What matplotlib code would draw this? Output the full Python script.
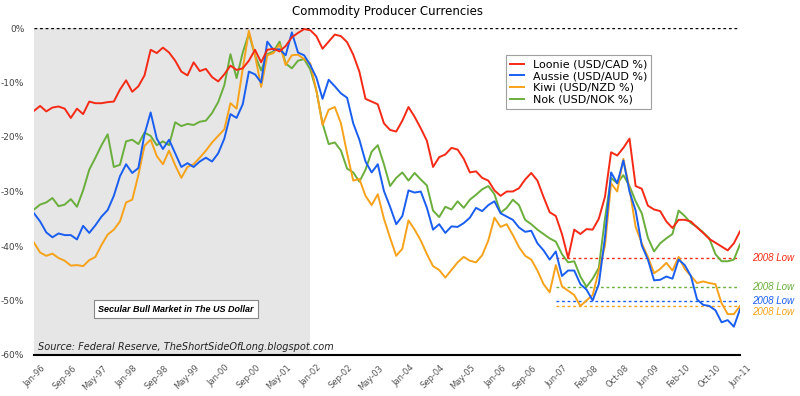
import numpy as np
import matplotlib
matplotlib.use("Agg")
import matplotlib.pyplot as plt
from matplotlib.transforms import ScaledTranslation

tick_labels = ["Jan-96", "Sep-96", "May-97", "Jan-98", "Sep-98", "May-99", "Jan-00", "Sep-00",
               "May-01", "Jan-02", "Sep-02", "May-03", "Jan-04", "Sep-04", "May-05", "Jan-06",
               "Sep-06", "Jun-07", "Feb-08", "Oct-08", "Jun-09", "Feb-10", "Oct-10", "Jun-11"]

loonie = [-15.2, -14.3, -15.3, -14.6, -14.4, -14.8, -16.5, -14.8, -15.8, -13.5,
          -13.8, -13.8, -13.6, -13.5, -11.3, -9.6, -11.7, -10.7, -8.7, -4.0,
          -4.6, -3.6, -4.5, -6.0, -8.0, -8.7, -6.3, -7.9, -7.5, -9.0,
          -9.8, -8.5, -6.9, -7.7, -7.4, -6.0, -4.0, -6.3, -4.0, -3.8,
          -4.3, -3.3, -1.7, -0.9, -0.2, -0.4, -1.5, -3.8, -2.5, -1.2,
          -1.5, -2.6, -4.9, -8.0, -13.0, -13.5, -14.0, -17.5, -18.7, -19.0,
          -17.0, -14.5, -16.3, -18.4, -20.7, -25.5, -23.7, -23.2, -22.0, -22.3,
          -24.0, -26.5, -26.3, -27.5, -28.0, -29.8, -30.8, -30.0, -30.0, -29.4,
          -27.8, -26.6, -28.0, -31.0, -33.8, -34.5, -37.8, -42.2, -37.0, -37.8,
          -36.9, -37.0, -35.0, -31.0, -22.8, -23.4, -22.0, -20.3, -29.0, -29.5,
          -32.6, -33.3, -33.6, -35.5, -36.7, -35.2, -35.2, -35.5, -36.6, -37.6,
          -38.7, -39.4, -40.1, -40.8, -39.5, -37.3]

aussie = [-34.0, -35.5, -37.5, -38.4, -37.7, -38.0, -38.0, -38.8, -36.3, -37.6,
          -36.2, -34.6, -33.4, -30.8, -27.2, -25.0, -26.6, -25.7, -19.5, -15.5,
          -20.3, -22.2, -20.5, -23.0, -25.5, -24.8, -25.5, -24.5, -23.8, -24.5,
          -23.0, -20.3, -15.8, -16.5, -14.0, -8.0, -8.5, -10.0, -2.5, -4.0,
          -3.9, -5.0, -0.8, -4.5, -5.0, -6.8, -9.1, -13.0, -9.5, -10.7,
          -12.0, -12.8, -17.5, -20.5, -24.5, -26.5, -25.0, -29.9, -32.8, -36.0,
          -34.5, -29.8, -30.2, -30.0, -33.0, -37.0, -36.0, -37.6, -36.4, -36.5,
          -35.8, -34.8, -33.0, -33.6, -32.5, -31.8, -34.0, -34.6, -35.2, -36.6,
          -37.4, -37.2, -39.5, -40.8, -42.5, -41.0, -45.5, -44.5, -44.5, -47.0,
          -48.0, -50.0, -47.0, -38.5, -26.5, -28.5, -24.3, -30.0, -33.5, -39.9,
          -42.5, -46.3, -46.2, -45.6, -46.0, -42.5, -43.5, -45.5, -49.8, -50.8,
          -51.0, -51.8, -54.0, -53.6, -54.8, -51.6]

kiwi = [-39.4, -41.2, -41.8, -41.4, -42.2, -42.7, -43.6, -43.5, -43.7, -42.6,
        -42.0, -39.8, -37.9, -37.0, -35.5, -32.0, -31.5, -27.0, -21.6, -20.5,
        -23.5, -25.0, -22.5, -25.2, -27.5, -25.5, -25.0, -23.8, -22.5, -21.0,
        -19.8, -18.6, -13.8, -14.8, -7.5, -0.5, -5.0, -10.8, -5.0, -4.6,
        -3.0, -6.8, -5.0, -4.9, -5.7, -6.5, -11.5, -17.8, -15.0, -14.5,
        -17.5, -23.0, -28.0, -27.7, -30.8, -32.5, -30.5, -35.0, -38.5, -41.8,
        -40.5, -35.3, -37.0, -39.0, -41.5, -43.7, -44.4, -45.8, -44.4, -43.0,
        -42.0, -42.7, -43.0, -41.7, -39.0, -34.8, -36.5, -36.0, -38.0, -40.2,
        -41.8, -42.5, -44.5, -47.0, -48.5, -43.5, -47.4, -48.2, -49.0, -51.0,
        -50.0, -49.0, -44.5, -40.0, -28.5, -30.0, -24.0, -29.5, -36.5, -39.5,
        -42.0, -45.0, -44.2, -43.1, -44.5, -42.0, -44.2, -45.5, -46.8, -46.5,
        -46.8, -47.0, -50.5, -52.5, -52.5, -51.0]

nok = [-33.3, -32.4, -32.0, -31.2, -32.7, -32.4, -31.4, -32.8, -29.8, -26.0,
       -23.8, -21.5, -19.5, -25.5, -25.1, -20.8, -20.5, -21.3, -19.2, -19.8,
       -21.5, -20.8, -21.5, -17.3, -18.0, -17.6, -17.8, -17.2, -17.0, -15.6,
       -13.6, -10.5, -4.8, -9.2, -4.5, -1.0, -5.0, -7.8, -4.8, -4.3,
       -2.5, -6.5, -7.4, -6.0, -5.7, -7.6, -11.5, -17.5, -21.3, -21.0,
       -22.5, -25.8, -26.5, -28.2, -26.0, -22.7, -21.5, -25.0, -29.0, -27.5,
       -26.5, -28.0, -26.6, -27.8, -28.9, -33.5, -34.7, -32.8, -33.3, -31.8,
       -33.0, -31.5, -30.6, -29.6, -29.0, -30.5, -33.9, -33.0, -31.5, -32.5,
       -35.2, -36.0, -37.0, -37.8, -38.6, -39.2, -41.5, -43.0, -42.8, -45.6,
       -47.5, -46.0, -44.0, -35.0, -27.5, -28.5, -27.0, -29.0, -31.8, -34.0,
       -38.5, -41.0, -39.5, -38.6, -37.8, -33.5, -34.5, -35.8, -36.5, -37.5,
       -38.6, -41.5, -42.8, -42.8, -42.5, -39.7]

names = ["Loonie (USD/CAD %)", "Aussie (USD/AUD %)", "Kiwi (USD/NZD %)", "Nok (USD/NOK %)"]
colors = ["#f52a16", "#1a5ef0", "#f7a21b", "#6aae3c"]
series = [loonie, aussie, kiwi, nok]

n = len(loonie)
x = np.arange(n)
shade_end = 45          # Jan-02
low_start, low_end = 84, 96   # 2008 window

fig = plt.figure(figsize=(8.0, 3.96), dpi=100)
ax = fig.add_axes([34/800, 1-355/396, 706/800, 327/396])

ax.axvspan(0, shade_end, color="#e6e6e6", zorder=0, lw=0)

for idx in [3, 2, 1, 0]:
    ax.plot(x, series[idx], color=colors[idx], lw=1.4, zorder=3 + (3 - idx), label=names[idx])

# 2008 lows
label_y = {0: 0.0, 1: 0.0, 2: -1.2, 3: 0.0}
for idx in [0, 3, 1, 2]:
    low = min(series[idx][low_start:low_end])
    ax.hlines(low, 85, n - 1, colors=colors[idx], linestyles=(0, (2, 2)), lw=1.0, zorder=2)
    ax.text(n - 1 + 1.9, low + label_y[idx], "2008 Low", color=colors[idx], fontsize=7,
            style="italic", family="Liberation Sans", va="center", ha="left", clip_on=False)

ax.axhline(0, color="black", lw=1.0, ls=(0, (2, 2)), zorder=5)

ax.set_xlim(0, n - 1)
ax.set_ylim(-60, 0)
for s in ["left", "right", "top"]:
    ax.spines[s].set_visible(False)
ax.spines["bottom"].set_linewidth(1.5)
ax.spines["bottom"].set_zorder(6)

yt = np.arange(-60, 1, 10)
ax.set_yticks(yt)
ax.set_yticklabels([f"{v}%" for v in yt], fontsize=6.5, color="#444444")
ax.tick_params(axis="y", length=0, pad=7)

xt = np.linspace(0, n - 1, len(tick_labels))
ax.set_xticks(xt)
ax.set_xticklabels(tick_labels, rotation=45, ha="right", fontsize=6, color="#555555",
                   rotation_mode="anchor")
ax.tick_params(axis="x", length=0, pad=6)
off = ScaledTranslation(5/72, 0, fig.dpi_scale_trans)
for lbl in ax.get_xticklabels():
    lbl.set_transform(lbl.get_transform() + off)

ax.set_title("Commodity Producer Currencies", fontsize=8.5, pad=9)

handles, labels = ax.get_legend_handles_labels()
order = [labels.index(nm) for nm in names]
leg = fig.legend([handles[i] for i in order], [labels[i] for i in order],
                 loc="upper left", bbox_to_anchor=(506/800, 1-55/396), fontsize=8,
                 frameon=True, fancybox=False, handlelength=1.2, handletextpad=0.8,
                 borderpad=0.4, labelspacing=0.15, borderaxespad=0)
leg.get_frame().set_edgecolor("#888888")
leg.get_frame().set_linewidth(0.8)

ax.text((176-34)/706, 1-(309-28)/327, "Secular Bull Market in The US Dollar",
        transform=ax.transAxes, fontsize=6.5, fontweight="bold", style="italic",
        family="Liberation Sans", ha="center", va="center", zorder=7,
        bbox=dict(boxstyle="square,pad=0.45", fc="white", ec="#888888", lw=0.8))

ax.text((38-34)/706, 1-(347-28)/327, "Source: Federal Reserve, TheShortSideOfLong.blogspot.com",
        transform=ax.transAxes, fontsize=7, style="italic", ha="left", va="center", zorder=7,
        color="#222222")

fig.savefig("out.png", dpi=100)
